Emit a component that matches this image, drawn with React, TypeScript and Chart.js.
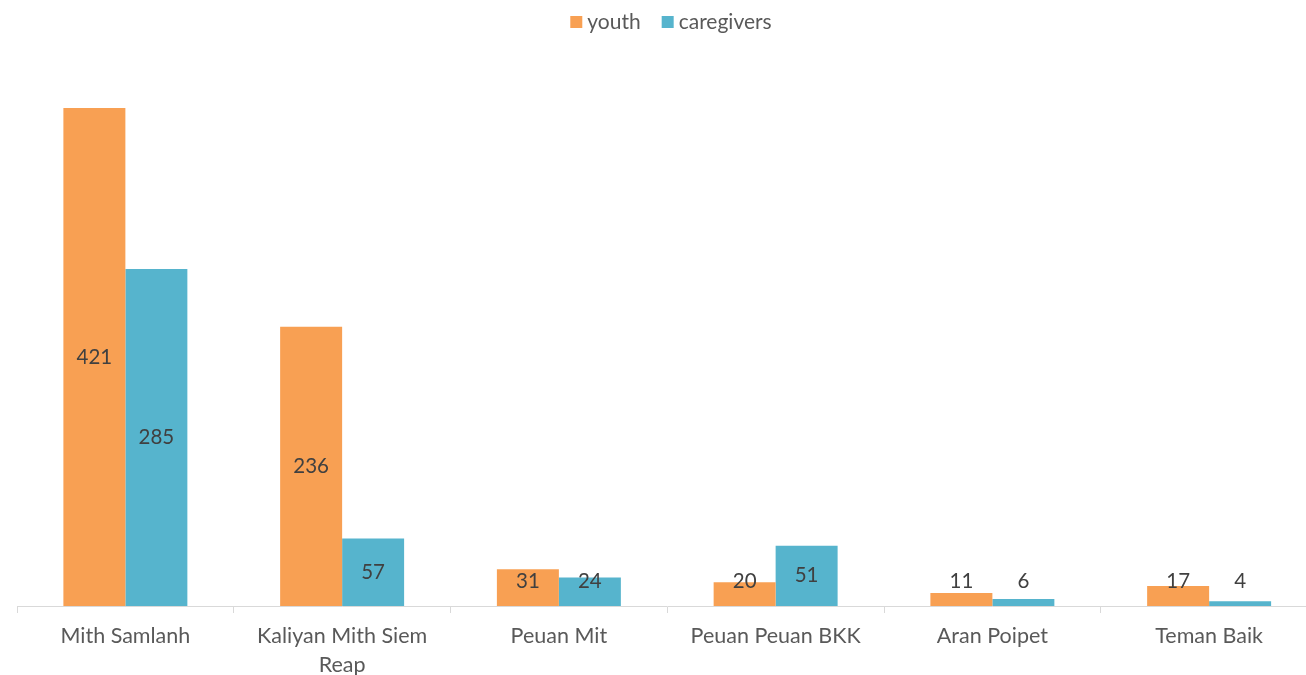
import React, { useEffect, useRef } from "react";
import { Chart, registerables } from "chart.js";

Chart.register(...registerables);

const categories: (string | string[])[] = [
  "Mith Samlanh",
  ["Kaliyan Mith Siem", "Reap"],
  "Peuan Mit",
  "Peuan Peuan BKK",
  "Aran Poipet",
  "Teman Baik",
];
const seriesNames = ["youth", "caregivers"];
const youth = [421, 236, 31, 20, 11, 17];
const caregivers = [285, 57, 24, 51, 6, 4];

const ORANGE = "#F8A053";
const TEAL = "#56B4CD";
const FONT = "Lato, 'Open Sans', sans-serif";

const labelPlugin = {
  id: "barLabels",
  afterDatasetsDraw(chart: any) {
    const ctx = chart.ctx;
    ctx.save();
    ctx.font = `20.5px ${FONT}`;
    ctx.fillStyle = "#404040";
    ctx.textAlign = "center";
    ctx.textBaseline = "middle";
    chart.data.datasets.forEach((ds: any, di: number) => {
      const meta = chart.getDatasetMeta(di);
      meta.data.forEach((bar: any, i: number) => {
        const center = (bar.y + bar.base) / 2;
        const y = Math.min(center, bar.base - 25);
        ctx.fillText(String(ds.data[i]), bar.x, y);
      });
    });
    ctx.restore();
  },
};

const legendPlugin = {
  id: "customLegend",
  afterDraw(chart: any) {
    const ctx = chart.ctx;
    ctx.save();
    ctx.font = `21px ${FONT}`;
    ctx.textBaseline = "middle";
    ctx.textAlign = "left";
    const box = 12;
    const gap = 5;
    const itemGap = 21;
    const widths = chart.data.datasets.map((ds: any) => box + gap + ctx.measureText(ds.label).width);
    const total = widths.reduce((a: number, b: number) => a + b, 0) + itemGap * (widths.length - 1);
    let x = 671 - total / 2;
    const cy = 22;
    chart.data.datasets.forEach((ds: any, i: number) => {
      ctx.fillStyle = ds.backgroundColor;
      ctx.fillRect(x, cy - box / 2, box, box);
      ctx.fillStyle = "#595959";
      ctx.fillText(ds.label, x + box + gap, cy);
      x += widths[i] + itemGap;
    });
    ctx.restore();
  },
};

export default function App() {
  const ref = useRef<HTMLCanvasElement | null>(null);
  useEffect(() => {
    if (!ref.current) return;
    const chart = new Chart(ref.current, {
      type: "bar",
      data: {
        labels: categories,
        datasets: [
          { label: seriesNames[0], data: youth, backgroundColor: ORANGE, categoryPercentage: 0.572, barPercentage: 1 },
          { label: seriesNames[1], data: caregivers, backgroundColor: TEAL, categoryPercentage: 0.572, barPercentage: 1 },
        ],
      },
      options: {
        animation: false,
        responsive: true,
        maintainAspectRatio: false,
        layout: { padding: { left: 17, right: 2.5, top: 73.7, bottom: 0 } },
        plugins: {
          legend: { display: false },
          tooltip: { enabled: false },
        },
        scales: {
          y: { display: false, min: 0, max: 450 },
          x: {
            afterFit: (scale: any) => {
              scale.height = 69;
            },
            border: { display: true, color: "#D9D9D9", width: 1 },
            grid: {
              display: true,
              offset: true,
              drawOnChartArea: false,
              drawTicks: true,
              tickLength: 7,
              color: "#D9D9D9",
            },
            ticks: {
              color: "#595959",
              padding: 9,
              maxRotation: 0,
              autoSkip: false,
              font: { family: FONT, size: 21.5, lineHeight: 1.32 },
            },
          },
        },
      },
      plugins: [labelPlugin, legendPlugin],
    });
    return () => chart.destroy();
  }, []);
  return (
    <div style={{ position: "fixed", left: 0, top: 0, width: 1306, height: 675, overflow: "hidden", background: "#fff" }}>
      <div style={{ position: "relative", width: 1320, height: 675 }}>
        <canvas ref={ref} />
      </div>
    </div>
  );
}
